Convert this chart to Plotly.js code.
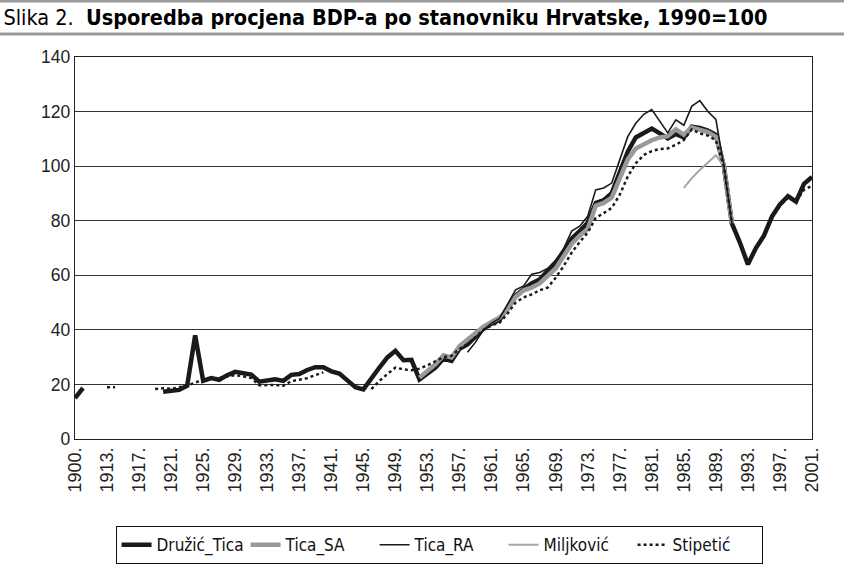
<!DOCTYPE html>
<html>
<head>
<meta charset="utf-8">
<script src="https://cdn.plot.ly/plotly-3.0.1.min.js"></script>
<style>html,body{margin:0;padding:0;background:#fff}#chart{width:844px;height:575px}</style>
</head>
<body>
<div id="chart"></div>
<script>
// Categories: 1900, then 1910..2001
const years = [1900];
for (let y = 1910; y <= 2001; y++) years.push(y);
const categories = years.map(y => y + ".");

// Values per year (null = no data)
const druzicTica = {
  1900: 15, 1910: 18.7,
  1920: 17.3, 1921: 17.5, 1922: 18.0, 1923: 19.5, 1924: 38, 1925: 21.3, 1926: 22.3, 1927: 21.7, 1928: 23.4, 1929: 24.6,
  1930: 24.2, 1931: 23.6, 1932: 21, 1933: 21.4, 1934: 21.9, 1935: 21.3, 1936: 23.5, 1937: 23.8, 1938: 25.3, 1939: 26.3,
  1940: 26.3, 1941: 24.8, 1942: 24, 1943: 21.5, 1944: 19, 1945: 18.2, 1946: 22.5, 1947: 26.2, 1948: 29.9, 1949: 32.3,
  1950: 28.9, 1951: 29, 1952: 21.8, 1953: 23.8, 1954: 26.2, 1955: 29.5, 1956: 28.6, 1957: 33.1, 1958: 34.7, 1959: 37.5,
  1960: 40.5, 1961: 42.3, 1962: 43.6, 1963: 48.1, 1964: 52.5, 1965: 55, 1966: 57, 1967: 58.5, 1968: 61.5, 1969: 64.6,
  1970: 68.3, 1971: 73.4, 1972: 76.2, 1973: 79.2, 1974: 86.5, 1975: 87.5, 1976: 90.1, 1977: 98, 1978: 105.3, 1979: 110.5,
  1980: 112, 1981: 113.8, 1982: 112, 1983: 110.2, 1984: 111.8, 1985: 110.5, 1986: 114.5, 1987: 114, 1988: 113, 1989: 111.5,
  1990: 100, 1991: 79, 1992: 72, 1993: 64, 1994: 70, 1995: 74.5, 1996: 81.5, 1997: 86, 1998: 89, 1999: 87,
  2000: 93.5, 2001: 96
};
const ticaSA = {
  1952: 22.5, 1953: 25, 1954: 27.4, 1955: 30.7, 1956: 29.9, 1957: 34.1, 1958: 36.5, 1959: 39.2,
  1960: 41.2, 1961: 42.9, 1962: 44.5, 1963: 47.5, 1964: 52, 1965: 54.5, 1966: 55.5, 1967: 57, 1968: 59.5, 1969: 62.5,
  1970: 67, 1971: 71.5, 1972: 74.5, 1973: 77, 1974: 85.5, 1975: 86.5, 1976: 88.5, 1977: 95.5, 1978: 102.5, 1979: 106.5,
  1980: 108, 1981: 109.5, 1982: 110.5, 1983: 111, 1984: 113.5, 1985: 111.5, 1986: 114.2, 1987: 113.2, 1988: 112.5, 1989: 110.8,
  1990: 100, 1991: 79
};
const ticaRA = {
  1958: 31.8, 1959: 35.5, 1960: 40, 1961: 42.5, 1962: 44.2, 1963: 49.5, 1964: 54.7, 1965: 56.1, 1966: 60.4, 1967: 61,
  1968: 62.5, 1969: 65.5, 1970: 69.8, 1971: 76.2, 1972: 78, 1973: 81.6, 1974: 91.3, 1975: 92, 1976: 93.8, 1977: 102.3,
  1978: 110.8, 1979: 115.7, 1980: 119, 1981: 120.7, 1982: 116.3, 1983: 112.2, 1984: 117, 1985: 115, 1986: 122, 1987: 124,
  1988: 120, 1989: 117.1, 1990: 100, 1991: 79
};
const miljkovic = { 1985: 92, 1986: 95.6, 1987: 98.6, 1988: 101.3, 1989: 104, 1990: 100 };
const stipetic = {
  1913: 19, 1914: 19,
  1919: 18.3, 1920: 18.6, 1921: 18.4, 1922: 18.9, 1923: 19.5, 1924: 20.7, 1925: 21.7, 1926: 22, 1927: 22.3, 1928: 22.9, 1929: 23.4,
  1930: 23, 1931: 22.3, 1932: 19.7, 1933: 19.8, 1934: 19.8, 1935: 19.5, 1936: 21.2, 1937: 21.7, 1938: 22.3, 1939: 23.4, 1940: 24.4,
  1946: 18.3, 1947: 21.3, 1948: 23.8, 1949: 26.2, 1950: 25.5, 1951: 25.2, 1952: 25.8, 1953: 27, 1954: 28.5, 1955: 30,
  1956: 30.5, 1957: 33, 1958: 34.8, 1959: 37.5, 1960: 40, 1961: 41.7, 1962: 42.6, 1963: 46, 1964: 50, 1965: 51.9,
  1966: 53, 1967: 54.5, 1968: 55.5, 1969: 59.1, 1970: 63.4, 1971: 68.3, 1972: 72.2, 1973: 75.6, 1974: 81, 1975: 82.8,
  1976: 84.7, 1977: 89.5, 1978: 96.2, 1979: 101, 1980: 104.1, 1981: 105.5, 1982: 106.3, 1983: 106.5, 1984: 107.8, 1985: 109.6,
  1986: 113.5, 1987: 112, 1988: 111.2, 1989: 109.5, 1990: 100, 1991: 79, 1992: 72, 1993: 64, 1994: 70, 1995: 74.5,
  1996: 81, 1997: 85.5, 1998: 88.5, 1999: 87, 2000: 91.3, 2001: 92.8
};

const seriesNames = ["Družić_Tica", "Tica_SA", "Tica_RA", "Miljković", "Stipetić"];
const yTicks = [0, 20, 40, 60, 80, 100, 120, 140];
const xTickLabels = categories.filter((c, i) => i % 4 === 0);

function col(obj) { return years.map(y => (y in obj ? obj[y] : null)); }

const traces = [
  { name: seriesNames[0], y: col(druzicTica), line: { color: "#1a1a1a", width: 4.5 } },
  { name: seriesNames[1], y: col(ticaSA), line: { color: "#999999", width: 4.5 } },
  { name: seriesNames[2], y: col(ticaRA), line: { color: "#1a1a1a", width: 1.6 } },
  { name: seriesNames[3], y: col(miljkovic), line: { color: "#a6a6a6", width: 2 } },
  { name: seriesNames[4], y: col(stipetic), line: { color: "#1a1a1a", width: 2.5, dash: "dot" } }
].map(t => Object.assign({ x: categories, type: "scatter", mode: "lines", connectgaps: false, hoverinfo: "skip" }, t));

const font = "'Liberation Sans', Arial, sans-serif";
const narrow = "'Liberation Sans Narrow', 'DejaVu Sans Condensed', 'Arial Narrow', sans-serif";
const layout = {
  width: 844, height: 575,
  margin: { l: 75, r: 32, t: 57, b: 135 },
  paper_bgcolor: "#fff", plot_bgcolor: "#fff",
  font: { family: font, size: 17, color: "#222" },
  title: {
    text: "Slika 2.  <b>Usporedba procjena BDP-a po stanovniku Hrvatske, 1990=100</b>",
    x: 0.004, xanchor: "left", xref: "container",
    y: 0.969, yanchor: "middle", yref: "container",
    font: { family: narrow, size: 21.5, color: "#000" }
  },
  xaxis: {
    type: "category", categoryorder: "array", categoryarray: categories,
    tickmode: "array", tickvals: xTickLabels, ticktext: xTickLabels,
    tickangle: -90, ticks: "", showgrid: false, zeroline: false,
    showline: true, mirror: true, linecolor: "#222", linewidth: 1.3,
    tickfont: { family: font, size: 18, color: "#222" }, fixedrange: true
  },
  yaxis: {
    range: [0, 140], tickmode: "array", tickvals: yTicks,
    showgrid: true, gridcolor: "#333", gridwidth: 1, zeroline: false,
    showline: true, mirror: true, linecolor: "#222", linewidth: 1.3,
    ticks: "", ticklen: 0, tickfont: { family: font, size: 17.5, color: "#222" }, fixedrange: true
  },
  legend: {
    orientation: "h", x: 0.494, xanchor: "center", y: -0.225, yanchor: "top",
    bordercolor: "#111", borderwidth: 1, bgcolor: "#fff",
    font: { family: narrow, size: 17, color: "#111" },
    itemwidth: 30, entrywidth: 84, entrywidthmode: "pixels", tracegroupgap: 0
  },
  shapes: [
    { type: "line", xref: "paper", yref: "paper", x0: -0.11, x1: 1.05, y0: (440 - 1) / 383, y1: (440 - 1) / 383, line: { color: "#9a9a9a", width: 2.5 } },
    { type: "line", xref: "paper", yref: "paper", x0: -0.11, x1: 1.05, y0: (440 - 34) / 383, y1: (440 - 34) / 383, line: { color: "#9a9a9a", width: 3 } }
  ],
  showlegend: true
};

Plotly.newPlot("chart", traces, layout, { staticPlot: true, displayModeBar: false });
</script>
</body>
</html>
